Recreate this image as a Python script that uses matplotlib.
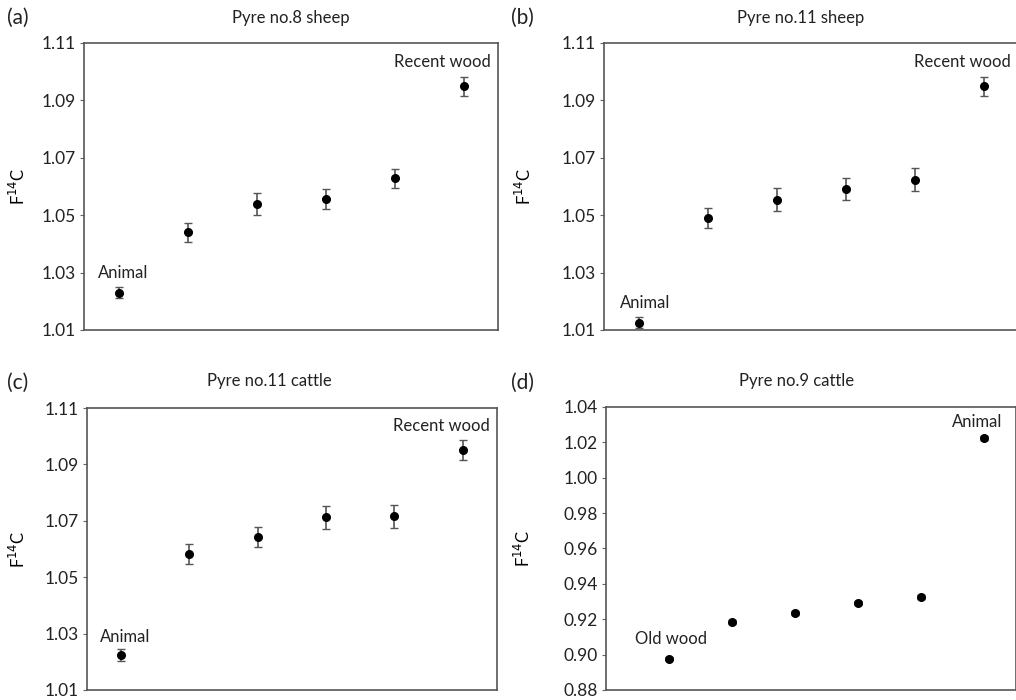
import matplotlib
matplotlib.use('Agg')
import matplotlib.pyplot as plt

# sample positions along the x axis (no labels shown)
positions = [1, 2, 3, 4, 5, 6]

# (a) Pyre no.8 sheep
a_vals = [1.0230, 1.0440, 1.0538, 1.0556, 1.0629, 1.0949]
a_errs = [0.0020, 0.0033, 0.0039, 0.0034, 0.0033, 0.0034]

# (b) Pyre no.11 sheep
b_vals = [1.0126, 1.0490, 1.0553, 1.0592, 1.0624, 1.0949]
b_errs = [0.0020, 0.0034, 0.0040, 0.0038, 0.0040, 0.0034]

# (c) Pyre no.11 cattle
c_vals = [1.0224, 1.0581, 1.0643, 1.0712, 1.0716, 1.0951]
c_errs = [0.0020, 0.0035, 0.0036, 0.0042, 0.0040, 0.0034]

# (d) Pyre no.9 cattle
d_vals = [0.8977, 0.9184, 0.9237, 0.9293, 0.9325, 1.0223]
d_errs = [0.0010, 0.0012, 0.0012, 0.0012, 0.0012, 0.0012]

plt.rcParams['font.family'] = ['Lato', 'DejaVu Sans']

fig = plt.figure(figsize=(10.16, 7), dpi=100)

panels = [
    # letter, title, vals, errs, axes rect, xlim, ylim, yticks, labels, letter pos, title pos, ylabel x
    ('(a)', 'Pyre no.8 sheep', a_vals, a_errs, [0.0827, 0.5286, 0.4075, 0.41], (0.5, 6.5),
     (1.01, 1.11), [1.01, 1.03, 1.05, 1.07, 1.09, 1.11],
     [(0, 'Animal', (5, 20)), (5, 'Recent wood', (-21, 24))], (0.007, 0.974), (0.286, 0.974), -0.135),
    ('(b)', 'Pyre no.11 sheep', b_vals, b_errs, [0.5945, 0.5286, 0.4075, 0.41], (0.5, 6.5),
     (1.01, 1.11), [1.01, 1.03, 1.05, 1.07, 1.09, 1.11],
     [(0, 'Animal', (7, 20)), (5, 'Recent wood', (-21, 24))], (0.503, 0.974), (0.788, 0.974), -0.170),
    ('(c)', 'Pyre no.11 cattle', c_vals, c_errs, [0.0856, 0.0143, 0.4035, 0.4028], (0.5, 6.5),
     (1.01, 1.11), [1.01, 1.03, 1.05, 1.07, 1.09, 1.11],
     [(0, 'Animal', (4, 18)), (5, 'Recent wood', (-21, 24))], (0.007, 0.453), (0.265, 0.456), -0.145),
    ('(d)', 'Pyre no.9 cattle', d_vals, d_errs, [0.5965, 0.0143, 0.4035, 0.4043], (0.0, 6.5),
     (0.88, 1.04), [0.88, 0.90, 0.92, 0.94, 0.96, 0.98, 1.00, 1.02, 1.04],
     [(0, 'Old wood', (2, 20)), (5, 'Animal', (-7, 16))], (0.503, 0.453), (0.784, 0.456), -0.177),
]

for letter, title, vals, errs, rect, xlim, ylim, yticks, labels, lpos, tpos, ylx in panels:
    ax = fig.add_axes(rect)
    ax.errorbar(positions, vals, yerr=errs, fmt='o', color='black', markersize=5.5,
                ecolor='#555555', elinewidth=1.2, capsize=3, capthick=1.0)
    ax.set_xlim(*xlim)
    ax.set_ylim(*ylim)
    ax.set_yticks(yticks)
    ax.yaxis.set_major_formatter(matplotlib.ticker.FormatStrFormatter('%.2f'))
    ax.set_xticks([])
    ax.tick_params(axis='y', length=3, width=0.8, color='#666666', labelsize=12.5, pad=3,
                   labelcolor='#222222')
    for s in ax.spines.values():
        s.set_color('#555555')
        s.set_linewidth(1.2)
    ax.set_ylabel('F$^{14}$C', fontsize=12)
    ax.yaxis.set_label_coords(ylx, 0.5)
    for idx, txt, off in labels:
        ax.annotate(txt, (positions[idx], vals[idx]), xytext=off, textcoords='offset pixels',
                    ha='center', va='center', fontsize=12, color='#222222')
    fig.text(lpos[0], lpos[1], letter, fontsize=15, ha='left', va='center', color='#222222')
    fig.text(tpos[0], tpos[1], title, fontsize=12, ha='center', va='center', color='#222222')

fig.savefig('out.png', dpi=100)
